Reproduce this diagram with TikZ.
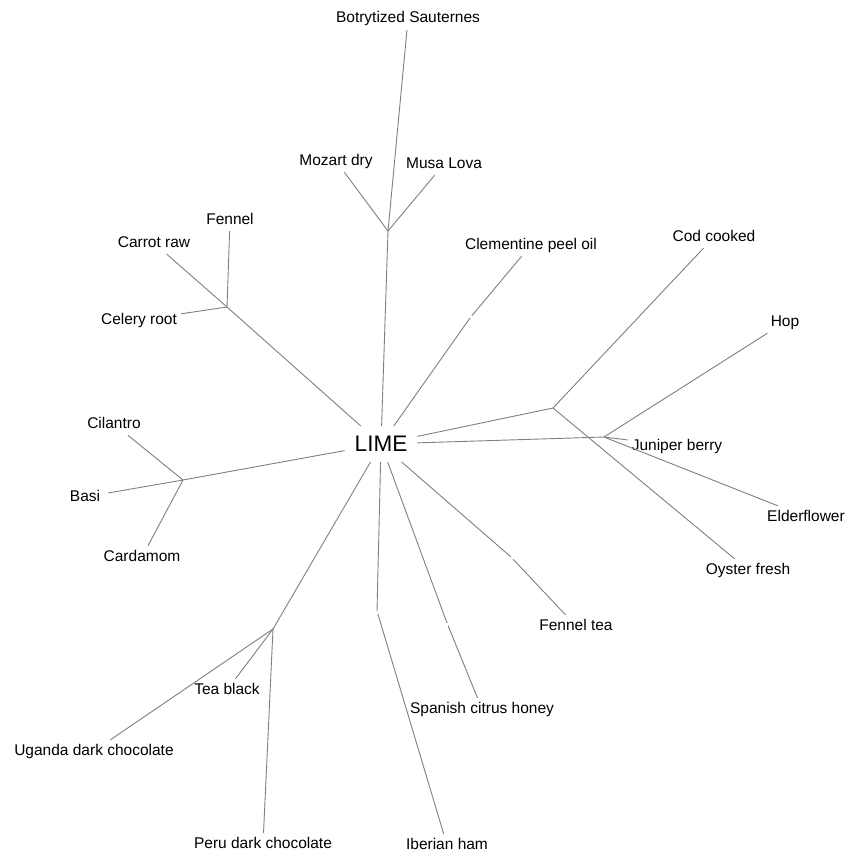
\documentclass[tikz,border=0pt]{standalone}
\usepackage{fontspec}
\setmainfont{Liberation Sans}
\begin{document}
\begin{tikzpicture}[x=1pt,y=-1pt,
  lbl/.style={inner sep=4pt,text height=11pt,text depth=3pt,font=\fontsize{15.5}{17}\selectfont},
  branch/.style={draw=black!50,line width=0.9pt},
  gap/.style={shorten <=3pt}]
\useasboundingbox[fill=white] (0,0) rectangle (862,864);
\node[inner sep=10pt,font=\fontsize{22.5}{24}\selectfont] (lime) at (381,444) {LIME};

\node[lbl] (sauternes) at (408,19) {Botrytized Sauternes};
\node[lbl] (mozart) at (336,161) {Mozart dry};
\node[lbl] (musa) at (444,164) {Musa Lova};
\node[lbl] (fennel) at (230,220) {Fennel};
\node[lbl] (carrot) at (154,243) {Carrot raw};
\node[lbl] (celery) at (139,320) {Celery root};
\node[lbl] (clementine) at (531,245) {Clementine peel oil};
\node[lbl] (cod) at (714,237) {Cod cooked};
\node[lbl] (hop) at (785,322) {Hop};
\node[lbl] (juniper) at (677,446) {Juniper berry};
\node[lbl] (elder) at (806,517) {Elderflower};
\node[lbl] (oyster) at (748,570) {Oyster fresh};
\node[lbl] (fennel-tea) at (576,626) {Fennel tea};
\node[lbl] (honey) at (482,709) {Spanish citrus honey};
\node[lbl] (ham) at (447,845) {Iberian ham};
\node[lbl] (peru) at (263,844) {Peru dark chocolate};
\node[lbl] (uganda) at (94,751) {Uganda dark chocolate};
\node[lbl] (tea) at (227,690) {Tea black};
\node[lbl] (cilantro) at (114,424) {Cilantro};
\node[lbl,inner sep=8pt] (basi) at (85,497) {Basi};
\node[lbl] (cardamom) at (142,557) {Cardamom};

\coordinate (j-wine) at (388,231);
\coordinate (j-root) at (227,307);
\coordinate (j-clem) at (470,318);
\coordinate (j-cod) at (553,408);
\coordinate (j-hop) at (604,437);
\coordinate (j-fennel) at (511,557);
\coordinate (j-honey) at (447,623);
\coordinate (j-ham) at (377,611);
\coordinate (j-choc) at (273,629);
\coordinate (j-herb) at (183,480);

\path[branch] (lime) edge (j-wine) (j-wine) edge (sauternes) (j-wine) edge (mozart) (j-wine) edge (musa);
\path[branch] (lime) edge (j-root) (j-root) edge (fennel) (j-root) edge (carrot) (j-root) edge (celery);
\path[branch] (lime) edge (j-clem) (j-clem) edge [gap] (clementine);
\path[branch] (lime) edge (j-cod) (j-cod) edge (cod) (j-cod) edge (oyster);
\path[branch] (lime) edge (j-hop) (j-hop) edge (hop) (j-hop) edge (juniper) (j-hop) edge (elder);
\path[branch] (lime) edge (j-fennel) (j-fennel) edge [gap] (fennel-tea);
\path[branch] (lime) edge (j-honey) (j-honey) edge [gap] (honey);
\path[branch] (lime) edge (j-ham) (j-ham) edge [gap] (ham);
\path[branch] (lime) edge (j-choc) (j-choc) edge (tea) (j-choc) edge (uganda) (j-choc) edge (peru);
\path[branch] (lime) edge (j-herb) (j-herb) edge (cilantro) (j-herb) edge (basi) (j-herb) edge (cardamom);
\end{tikzpicture}
\end{document}
